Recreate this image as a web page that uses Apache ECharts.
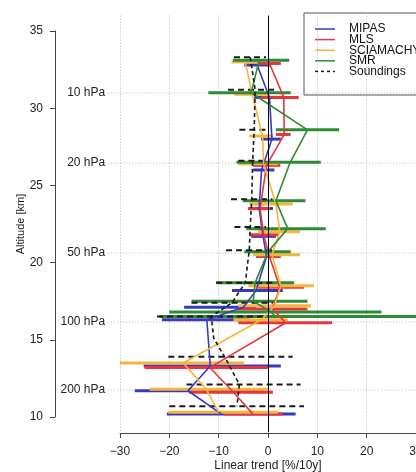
<!DOCTYPE html>
<html><head><meta charset="utf-8">
<script src="https://cdn.jsdelivr.net/npm/echarts@6/dist/echarts.min.js"></script>
<style>html,body{margin:0;padding:0;background:#fff}#c{width:416px;height:472px}</style>
</head><body><div id="c"></div>
<script>
// ---------- data ----------
const seriesNames = ['MIPAS', 'MLS', 'SCIAMACHY', 'SMR', 'Soundings'];

const mipasAlt   = [32.8, 30.7, 28.0, 26.0, 23.5, 21.7, 20.4, 18.2, 17.1, 16.3, 13.3, 11.7, 10.2];
const mipasTrend = [-2.2, 0.3, 0.8, -1.3, -1.8, -1.0, -0.3, -2.4, -5.0, -12.4, -11.7, -16.2, -9.5];
const mipasLo    = [-4.8, -2.8, -1.4, -3.0, -4.0, -3.4, -2.4, -7.3, -17.0, -21.5, -25.2, -27.0, -20.5];
const mipasHi    = [0.4, 3.0, 2.6, 1.3, 1.0, 1.6, 2.4, 3.0, -2.4, -3.8, 2.6, -0.8, 5.6];

const mlsAlt   = [32.9, 30.7, 28.3, 26.3, 23.5, 21.8, 20.4, 18.4, 17.0, 16.1, 13.2, 11.6, 10.2];
const mlsTrend = [0.3, 3.2, 3.3, -0.3, -1.6, -0.9, 0.3, 2.4, 0.9, 3.6, -11.8, -7.0, -3.1];
const mlsLo    = [-2.0, -1.4, 1.6, -3.0, -4.0, -3.8, -2.4, -2.0, -6.2, -6.0, -25.0, -16.0, -9.0];
const mlsHi    = [2.6, 6.2, 4.6, 2.5, 0.4, 2.2, 2.6, 7.3, 8.0, 13.0, 0.0, 1.0, 3.0];

const sciaAlt   = [33.0, 30.9, 28.2, 26.4, 23.8, 22.0, 20.5, 18.5, 17.2, 16.3, 13.5, 11.8, 10.3];
const sciaTrend = [-4.6, -3.2, -1.1, -0.9, 1.6, 2.4, 0.8, 2.6, 1.3, -1.3, -17.2, -12.5, -10.0];
const sciaLo    = [-7.4, -6.8, -3.8, -6.0, -3.8, -2.0, -3.0, -4.0, -6.0, -7.0, -30.0, -24.0, -20.2];
const sciaHi    = [-2.0, 0.0, 1.0, 2.0, 5.0, 6.5, 6.5, 9.3, 8.7, 4.0, -4.8, 0.2, 2.0];

const smrAlt   = [33.1, 31.0, 28.6, 26.5, 24.0, 22.2, 20.7, 18.7, 17.5, 16.8, 16.5];
const smrTrend = [-1.8, -3.4, 8.0, 4.5, 1.6, 4.0, 0.0, -2.6, -3.0, 0.6, 1.5];
const smrLo    = [-7.1, -12.1, 1.6, -6.4, -5.1, -4.4, -4.8, -10.5, -15.5, -20.0, -22.0];
const smrHi    = [4.3, 4.6, 14.4, 10.7, 7.6, 11.7, 4.6, 5.3, 8.0, 23.0, 36.0];

const sondAlt   = [33.3, 31.2, 28.6, 26.6, 24.1, 22.3, 20.8, 18.7, 17.4, 16.5, 15.1, 13.9, 12.1, 10.7];
const sondTrend = [-3.6, -2.6, -2.8, -3.1, -3.3, -3.6, -3.8, -4.6, -7.3, -11.5, -11.0, -8.8, -5.8, -6.3];
const sondLo    = [-6.9, -8.1, -5.8, -6.0, -7.5, -6.8, -8.5, -10.5, -15.5, -22.5, null, -20.2, -16.5, -20.0];
const sondHi    = [-0.4, 1.9, 0.0, -0.2, 0.9, -0.4, 0.9, 1.3, 1.0, -0.5, null, 5.0, 6.6, 7.3];

const xTicks = [-30, -20, -10, 0, 10, 20, 30];
const yTicks = [10, 15, 20, 25, 30, 35];
const pressureLabels = ['10 hPa', '20 hPa', '50 hPa', '100 hPa', '200 hPa'];
const pressureAlt = [30.98, 26.45, 20.62, 16.15, 11.75];

// ---------- styles ----------
const colors = ['#3838c0', '#e8343c', '#f6b43a', '#2f8a35', '#1a1a1a'];
const FONT = 'Liberation Sans, Arial, Helvetica, sans-serif';
const PLOT_LEFT_VALUE = -32.4; // left edge of R plot region (for pressure guides)

const profiles = [
  [mipasAlt, mipasTrend, mipasLo, mipasHi],
  [mlsAlt, mlsTrend, mlsLo, mlsHi],
  [sciaAlt, sciaTrend, sciaLo, sciaHi],
  [smrAlt, smrTrend, smrLo, smrHi],
  [sondAlt, sondTrend, sondLo, sondHi]
];

const chart = echarts.init(document.getElementById('c'), null, {renderer: 'canvas'});

const series = [];

// pressure guides + labels
series.push({
  type: 'custom', xAxisIndex: 0, yAxisIndex: 0, clip: false, silent: true, z: 1,
  data: pressureAlt.map((a, i) => [a, i]),
  encode: {y: 0},
  renderItem: function (params, api) {
    const alt = api.value(0);
    const i = api.value(1);
    const p0 = api.coord([PLOT_LEFT_VALUE, alt]);
    const p1 = api.coord([xTicks[xTicks.length - 1] + 2, alt]);
    return {
      type: 'group', children: [
        {type: 'line', shape: {x1: p0[0], y1: p0[1], x2: p1[0], y2: p1[1]},
         style: {stroke: '#b5b5b5', lineWidth: 1, lineDash: [1, 2]}},
        {type: 'text', style: {text: pressureLabels[i], x: p0[0] - 3, y: p0[1],
          textAlign: 'right', textVerticalAlign: 'middle', font: '12px ' + FONT, fill: '#222'}}
      ]
    };
  }
});

// zero line
series.push({
  type: 'line', xAxisIndex: 0, yAxisIndex: 0, data: [], silent: true,
  markLine: {silent: true, symbol: 'none', label: {show: false},
    lineStyle: {color: '#000', type: 'solid', width: 1}, data: [{xAxis: 0}]}
});

profiles.forEach(function (p, k) {
  const [alt, trend, lo, hi] = p;
  const dashed = k === 4;
  // error bars
  series.push({
    type: 'custom', name: seriesNames[k], xAxisIndex: 0, yAxisIndex: 0, clip: false, z: 2,
    data: alt.map((a, i) => [lo[i], hi[i], a]).filter(d => d[0] !== null),
    encode: {x: [0, 1], y: 2},
    renderItem: function (params, api) {
      const a = api.coord([api.value(0), api.value(2)]);
      const b = api.coord([api.value(1), api.value(2)]);
      return {type: 'line', shape: {x1: a[0], y1: a[1], x2: b[0], y2: b[1]},
        style: {stroke: colors[k], lineWidth: dashed ? 2 : 3, lineDash: dashed ? [6, 4] : null}};
    }
  });
  // profile line
  series.push({
    type: 'line', name: seriesNames[k], xAxisIndex: 0, yAxisIndex: 0, z: 3,
    data: alt.map((a, i) => [trend[i], a]),
    symbol: 'none', clip: false,
    lineStyle: {color: colors[k], width: 1.6, type: dashed ? [4, 3] : 'solid'}
  });
});

// legend (drawn as graphic)
const legendChildren = [
  {type: 'rect', shape: {x: 304, y: 13, width: 130, height: 82},
   style: {fill: '#fff', stroke: '#555', lineWidth: 1}}
];
seriesNames.forEach(function (n, k) {
  const y = 29 + k * 10.6;
  legendChildren.push({type: 'line', shape: {x1: 315, y1: y, x2: 335, y2: y},
    style: {stroke: colors[k], lineWidth: 1.5, lineDash: k === 4 ? [3, 3] : null}});
  legendChildren.push({type: 'text', style: {text: n, x: 349, y: y, textVerticalAlign: 'middle',
    font: '12px ' + FONT, fill: '#111'}});
});

const option = {
  animation: false,
  backgroundColor: '#fff',
  grid: [
    {left: 120, top: 15.6, width: 296, height: 416.8, outerBoundsMode: 'none', containLabel: false},
    {left: 120, top: 31, width: 296, height: 386, outerBoundsMode: 'none', containLabel: false}
  ],
  xAxis: [
    {type: 'value', gridIndex: 0, min: xTicks[0], max: xTicks[xTicks.length - 1], interval: 10,
     axisLine: {show: false}, axisTick: {show: false}, axisLabel: {show: false},
     splitLine: {show: true, lineStyle: {color: '#b5b5b5', width: 1, type: [1, 2]}}},
    {type: 'value', gridIndex: 1, min: xTicks[0], max: xTicks[xTicks.length - 1], interval: 10,
     position: 'bottom', offset: 16,
     axisLine: {show: true, onZero: false, lineStyle: {color: '#444', width: 1}},
     axisTick: {show: true, inside: false, length: 5, lineStyle: {color: '#444'}},
     axisLabel: {margin: 13, fontSize: 12, fontFamily: FONT, color: '#222',
       formatter: v => (v < 0 ? '\u2212' + Math.abs(v) : String(v))},
     splitLine: {show: false},
     name: 'Linear trend [%/10y]', nameLocation: 'middle', nameGap: 27, nameMoveOverlap: false,
     nameTextStyle: {fontSize: 12, fontFamily: FONT, color: '#222'}}
  ],
  yAxis: [
    {type: 'value', gridIndex: 0, min: 9, max: 36, show: false},
    {type: 'value', gridIndex: 1, min: yTicks[0], max: yTicks[yTicks.length - 1], interval: 5,
     position: 'left', offset: 65,
     axisLine: {show: true, onZero: false, lineStyle: {color: '#444', width: 1}},
     axisTick: {show: true, inside: false, length: 5, lineStyle: {color: '#444'}},
     axisLabel: {margin: 12, fontSize: 12, fontFamily: FONT, color: '#222'},
     splitLine: {show: false},
     name: 'Altitude [km]', nameLocation: 'middle', nameGap: 29, nameRotate: 90, nameMoveOverlap: false,
     nameTextStyle: {fontSize: 11, fontFamily: FONT, color: '#222'}}
  ],
  series: series,
  graphic: [{type: 'group', z: 100, children: legendChildren}]
};
chart.setOption(option);
</script>
</body></html>
